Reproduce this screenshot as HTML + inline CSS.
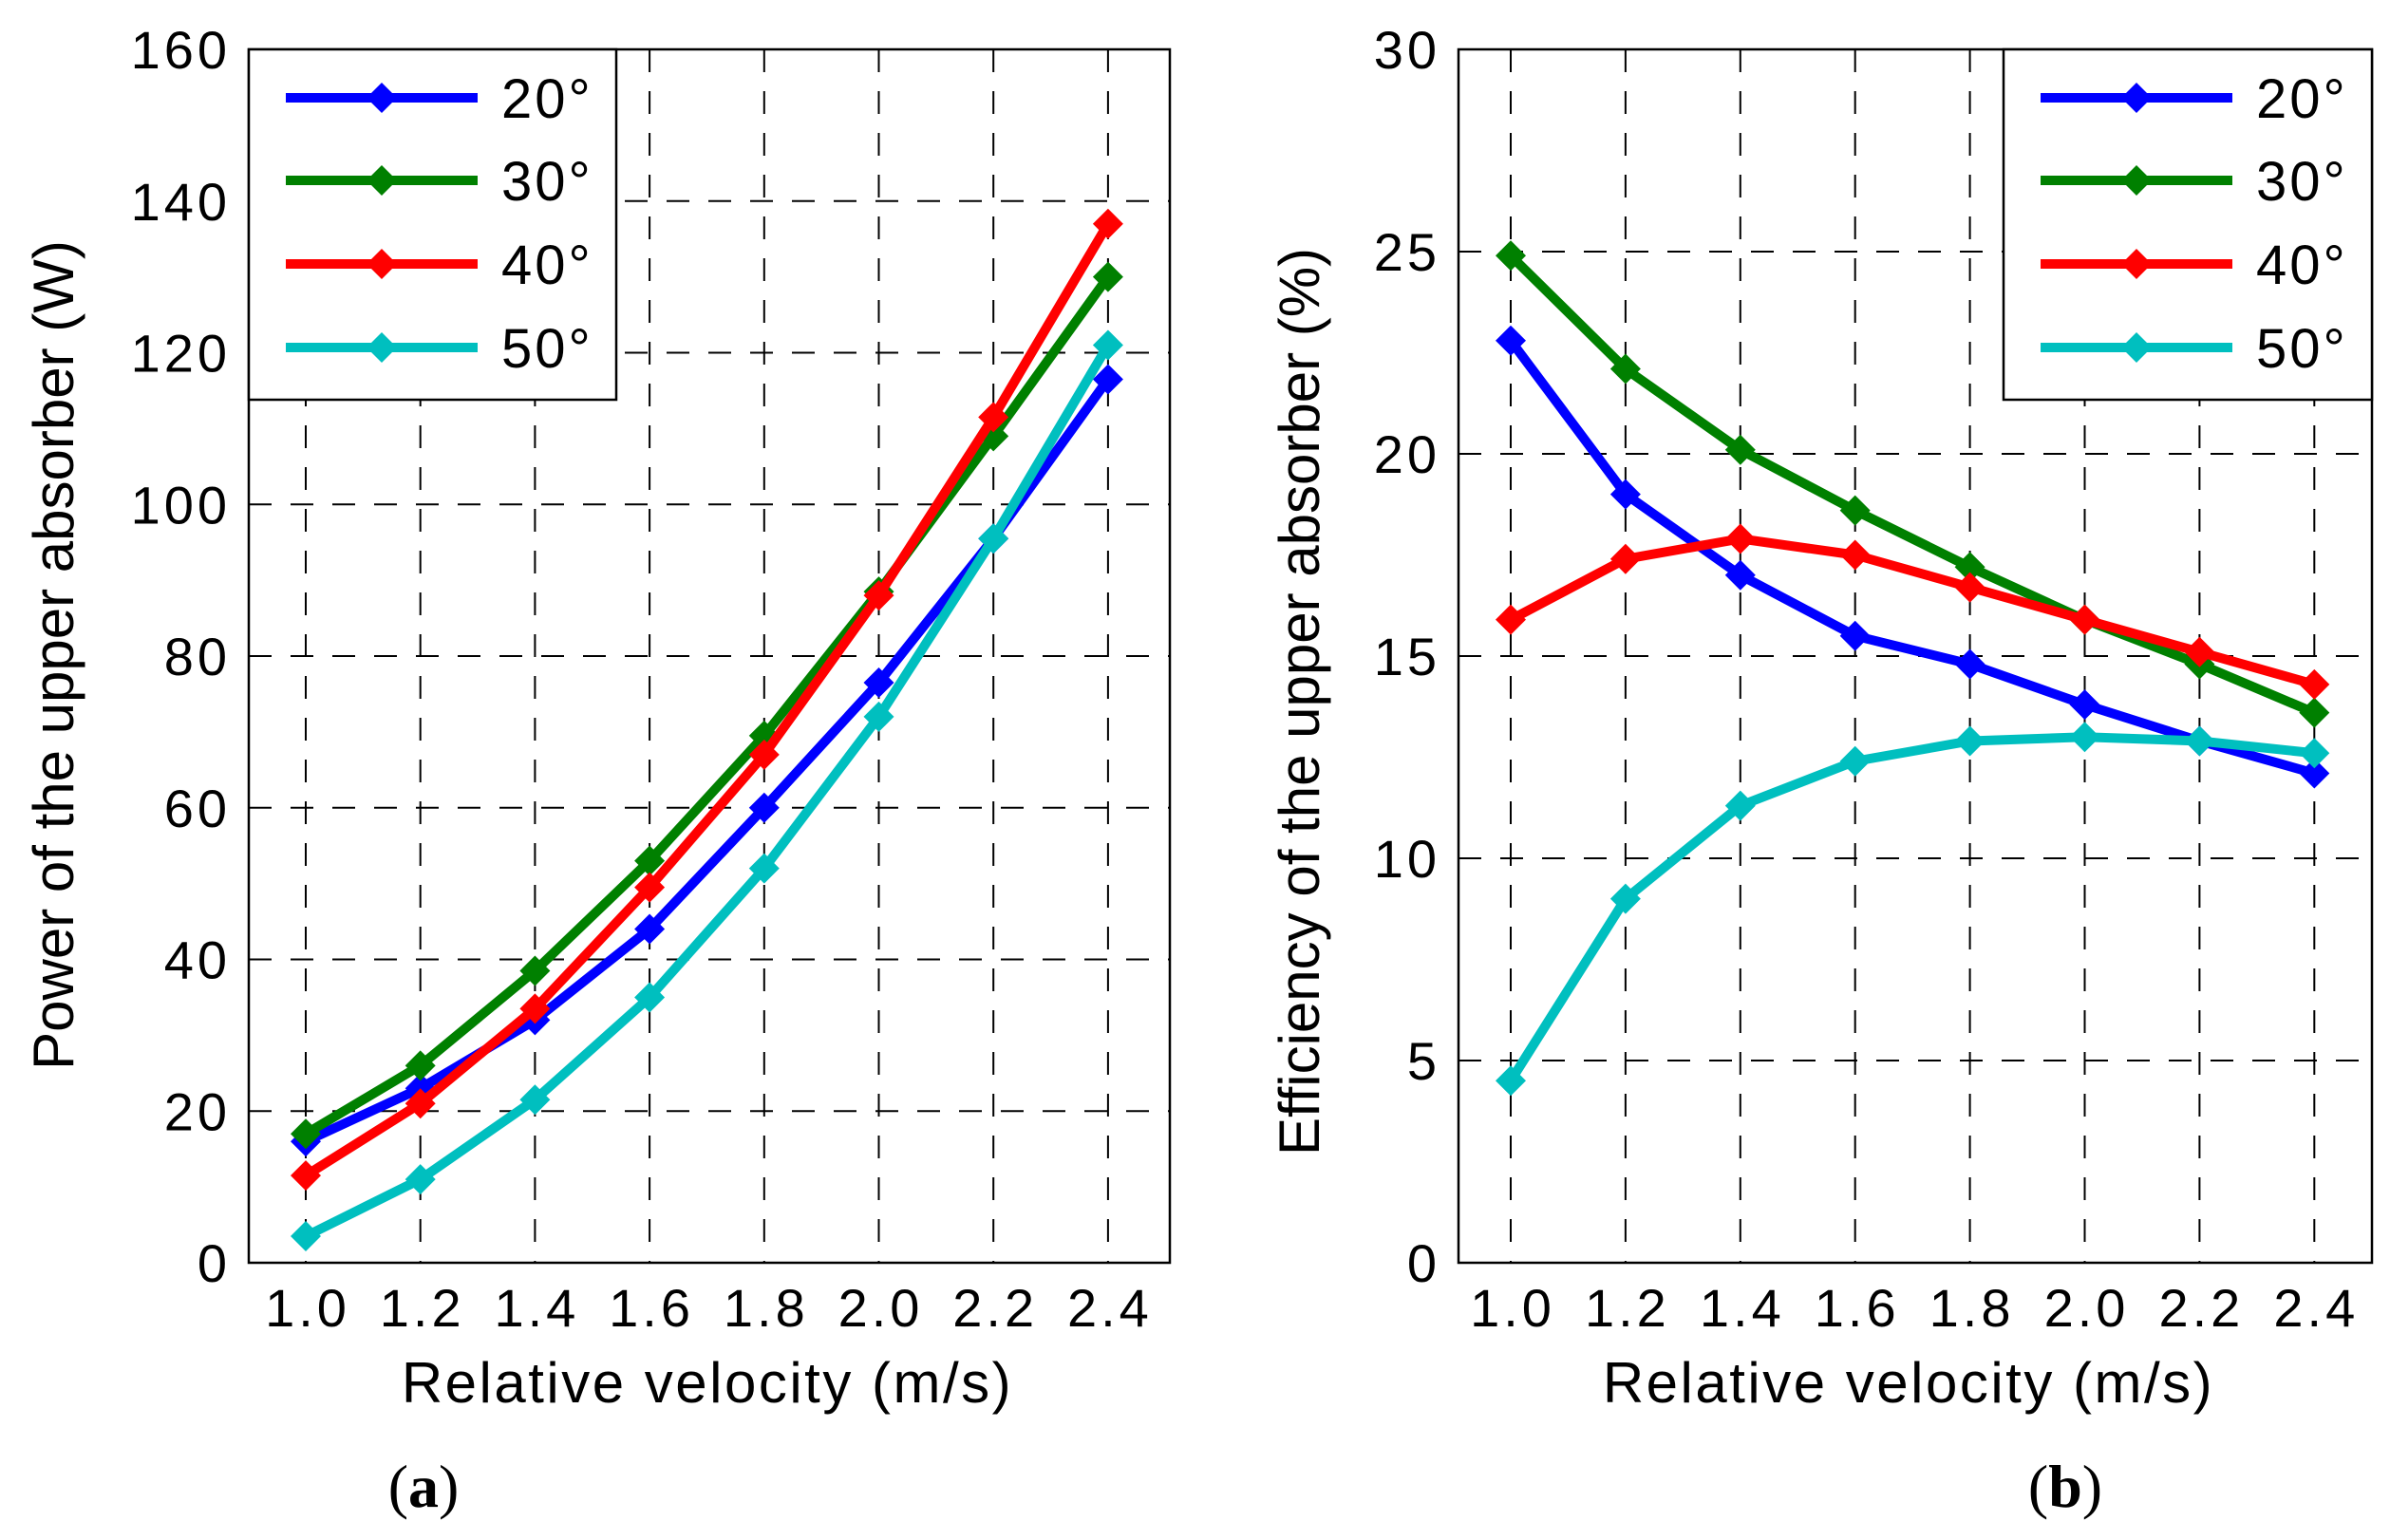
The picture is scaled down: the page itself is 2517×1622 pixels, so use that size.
<!DOCTYPE html>
<html><head><meta charset="utf-8">
<style>
html,body{margin:0;padding:0;background:#fff;}
svg{display:block;font-family:"Liberation Sans",Arial,sans-serif;}
</style></head>
<body>
<svg id="fig" width="2517" height="1622" viewBox="0 0 2517 1622" xmlns="http://www.w3.org/2000/svg">
<rect width="2517" height="1622" fill="#fff"/>
</svg>
<script>
const categories = [1.0, 1.2, 1.4, 1.6, 1.8, 2.0, 2.2, 2.4];
const xTickLabels = ["1.0","1.2","1.4","1.6","1.8","2.0","2.2","2.4"];
const seriesNames = ["20°","30°","40°","50°"];
const seriesColors = ["#0000ff","#008000","#ff0000","#00bfbf"];
const powerTicks = [0,20,40,60,80,100,120,140,160];
const power20 = [16,23,32,44,60,76.5,95.5,116.5];
const power30 = [17,26,38.5,53,69.5,88.5,109,130];
const power40 = [11.5,21,33.5,49.5,67,88,111.5,137];
const power50 = [3.5,11,21.5,35,52,72,95.5,121];
const effTicks = [0,5,10,15,20,25,30];
const eff20 = [22.8,19,17,15.5,14.8,13.8,12.9,12.1];
const eff30 = [24.9,22.1,20.1,18.6,17.2,15.9,14.8,13.6];
const eff40 = [15.9,17.4,17.9,17.5,16.7,15.9,15.1,14.3];
const eff50 = [4.5,9,11.3,12.4,12.9,13,12.9,12.6];

const NS = "http://www.w3.org/2000/svg";
const svg = document.getElementById('fig');
function mk(tag, attrs, parent){
  const e = document.createElementNS(NS, tag);
  for (const k in attrs) e.setAttribute(k, attrs[k]);
  (parent||svg).appendChild(e);
  return e;
}

function panel(cfg){
  const g = mk('g', {});
  
  
  const L=cfg.left, R=cfg.right, T=52, B=1330;
  const xs = v => cfg.x0 + (v-1.0)/0.2*cfg.xstep;
  const ys = v => B - (v-cfg.ymin)/(cfg.ymax-cfg.ymin)*(B-T);
  categories.forEach((c,i)=>{
    const l = mk('line',{x1:xs(c),x2:xs(c),y1:T,y2:B,stroke:'#000','stroke-width':2,'stroke-dasharray':'24,20'},g);
    
    
    const t = mk('text',{x:xs(c)+2,y:1397,'font-size':56,'letter-spacing':4,'text-anchor':'middle',fill:'#000'},g);
    t.textContent = xTickLabels[i];
    
    
  });
  cfg.ticks.forEach(v=>{
    const y = ys(v);
    if (v>cfg.ymin && v<cfg.ymax){
      const l = mk('line',{x1:L,x2:R,y1:y,y2:y,stroke:'#000','stroke-width':2,'stroke-dasharray':'24,20'},g);
      
      
    }
    const t = mk('text',{x:cfg.tickRight+4,y:y+20,'font-size':56,'letter-spacing':4,'text-anchor':'end',fill:'#000'},g);
    t.textContent = v;
    
    
  });
  const box = mk('rect',{x:L,y:T,width:R-L,height:B-T,fill:'none',stroke:'#000','stroke-width':2.5},g);
  
  
  cfg.data.forEach((arr,si)=>{
    const sg = mk('g',{},g);
    
    
    const pts = arr.map((v,i)=>xs(categories[i])+','+ys(v)).join(' ');
    const pl = mk('polyline',{points:pts,fill:'none',stroke:seriesColors[si],'stroke-width':10,'stroke-linejoin':'round'},sg);
    
    
    arr.forEach((v,i)=>{
      const cx=xs(categories[i]), cy=ys(v), r=16;
      const m = mk('polygon',{points:`${cx},${cy-r} ${cx+r},${cy} ${cx},${cy+r} ${cx-r},${cy}`,fill:seriesColors[si]},sg);
      
      
    });
  });
  const lg = mk('g',{},g);
  
  
  const lx = cfg.legLeft;
  mk('rect',{x:lx,y:T,width:cfg.legRight-lx,height:421-T,fill:'#fff',stroke:'#000','stroke-width':2.5},lg);
  const rows=[103,190,278,366];
  seriesNames.forEach((n,i)=>{
    const eg = mk('g',{},lg);
    
    
    mk('line',{x1:lx+39,x2:lx+241,y1:rows[i],y2:rows[i],stroke:seriesColors[i],'stroke-width':10},eg);
    const cx=lx+140, cy=rows[i], r=16;
    mk('polygon',{points:`${cx},${cy-r} ${cx+r},${cy} ${cx},${cy+r} ${cx-r},${cy}`,fill:seriesColors[i]},eg);
    const t = mk('text',{x:lx+266,y:rows[i]+21,'font-size':58,'letter-spacing':3,fill:'#000'},eg);
    t.textContent = n;
  });
  const xl = mk('text',{x:cfg.xLabelX,y:1477,'font-size':60,'letter-spacing':2.5,'text-anchor':'middle',fill:'#000'},g);
  xl.textContent = 'Relative velocity (m/s)';
  
  
  const yl = mk('text',{x:0,y:0,'font-size':60,'text-anchor':'middle',fill:'#000',transform:`translate(${cfg.yLabelX},${cfg.yLabelY}) rotate(-90)`},g);
  yl.textContent = cfg.yTitle;
  
  
  const cap = mk('text',{x:cfg.capX,y:1587,'font-size':64,'text-anchor':'middle',fill:'#000','font-family':'"Liberation Serif",serif'},g);
  cap.innerHTML = '(<tspan font-weight="bold">'+cfg.cap+'</tspan>)';
  
  
}

panel({name:'power-chart',left:262,right:1232,x0:322,xstep:120.7,ymin:0,ymax:160,ticks:powerTicks,tickRight:239,
  data:[power20,power30,power40,power50],legLeft:262,legRight:649,xLabelX:745,yLabelX:77,yLabelY:690,
  yTitle:'Power of the upper absorber (W)',capX:446,cap:'a'});
panel({name:'efficiency-chart',left:1536,right:2498,x0:1591,xstep:120.9,ymin:0,ymax:30,ticks:effTicks,tickRight:1513,
  data:[eff20,eff30,eff40,eff50],legLeft:2110,legRight:2498,xLabelX:2010,yLabelX:1389,yLabelY:739,
  yTitle:'Efficiency of the upper absorber (%)',capX:2175,cap:'b'});
</script>
</body></html>
